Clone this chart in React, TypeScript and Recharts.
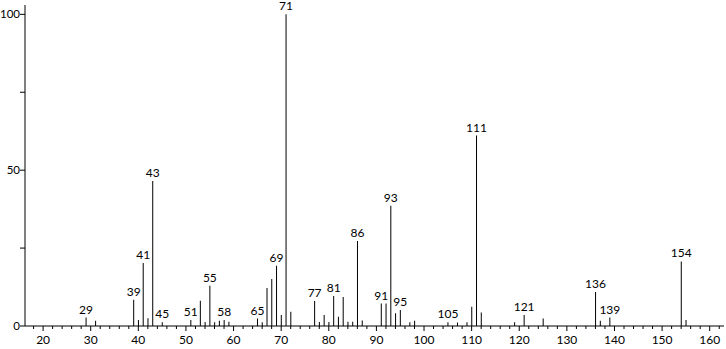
import React from "react";
import { BarChart, Bar, XAxis, YAxis, LabelList } from "recharts";

const masses = [29, 31, 39, 40, 41, 42, 43, 45, 51, 53, 54, 55, 56, 57, 58, 59, 65, 66, 67, 68, 69, 70, 71, 72, 77, 78, 79, 80, 81, 82, 83, 84, 85, 86, 87, 91, 92, 93, 94, 95, 97, 98, 105, 107, 109, 110, 111, 112, 119, 121, 125, 136, 137, 139, 154, 155];
const intensities = [2.7, 1.7, 8.4, 1.9, 20.2, 2.5, 46.5, 1.2, 1.9, 8.1, 1.3, 12.9, 1.2, 1.7, 1.9, 1.4, 2.4, 1.2, 12.2, 15.1, 19.3, 3.5, 100, 4.6, 8.0, 1.3, 3.5, 1.3, 9.6, 3.0, 9.3, 1.4, 1.4, 27.3, 1.8, 7.2, 7.2, 38.6, 4.1, 5.1, 1.2, 1.7, 1.2, 1.1, 1.2, 6.2, 61.1, 4.3, 1.2, 3.5, 2.4, 10.9, 1.7, 2.7, 20.7, 1.9];
const labeledMasses = [29, 39, 41, 43, 45, 51, 55, 58, 65, 69, 71, 77, 81, 86, 91, 93, 95, 105, 111, 121, 136, 139, 154];

const xTicks: number[] = [];
for (let v = 18; v <= 162; v += 2) xTicks.push(v);
const yTicks = [0, 25, 50, 75, 100];

const data = masses.map((m, i) => ({
  mz: m,
  intensity: intensities[i],
  label: labeledMasses.includes(m) ? String(m) : "",
}));

const FONT = "Lato, 'DejaVu Sans', sans-serif";

const XTick = (props: any) => {
  const { x, y, payload } = props;
  const v = payload.value as number;
  const major = v % 10 === 0;
  return (
    <g>
      <line x1={x} x2={x} y1={y} y2={y + (major ? 5 : 3)} stroke="#000" strokeWidth={1} />
      {major && (
        <text x={x} y={y + 18} textAnchor="middle" fontSize={12} fontFamily={FONT} fill="#000">
          {v}
        </text>
      )}
    </g>
  );
};

const YTick = (props: any) => {
  const { x, y, payload } = props;
  const v = payload.value as number;
  const major = v % 50 === 0;
  return (
    <g>
      <line x1={x - 5} x2={x} y1={y} y2={y} stroke="#000" strokeWidth={1} />
      {major && (
        <text x={x - 5} y={y + 4} textAnchor="end" fontSize={11.5} fontFamily={FONT} fill="#000">
          {v}
        </text>
      )}
    </g>
  );
};

const PeakLabel = (props: any) => {
  const { x, y, width, value } = props;
  if (!value) return null;
  return (
    <text x={x + width / 2} y={y - 4} textAnchor="middle" fontSize={12} fontFamily={FONT} fill="#000">
      {value}
    </text>
  );
};

export default function App() {
  return (
    <div style={{ position: "absolute", left: 0, top: 0, background: "#fff" }}>
      <BarChart width={726} height={349} data={data} margin={{ top: 5, right: 2, bottom: 0, left: 0 }} barSize={1}>
        <XAxis
          dataKey="mz"
          type="number"
          domain={[16.2, 163]}
          ticks={xTicks}
          interval={0}
          tickSize={0}
          tickMargin={0}
          tickLine={false}
          tick={<XTick />}
          height={23}
          axisLine={{ stroke: "#000", strokeWidth: 1 }}
        />
        <YAxis
          type="number"
          domain={[0, 103]}
          ticks={yTicks}
          interval={0}
          tickSize={0}
          tickMargin={0}
          tickLine={false}
          tick={<YTick />}
          width={25}
          axisLine={{ stroke: "#000", strokeWidth: 1 }}
        />
        <Bar dataKey="intensity" fill="#000" isAnimationActive={false}>
          <LabelList dataKey="label" content={<PeakLabel />} />
        </Bar>
      </BarChart>
    </div>
  );
}
